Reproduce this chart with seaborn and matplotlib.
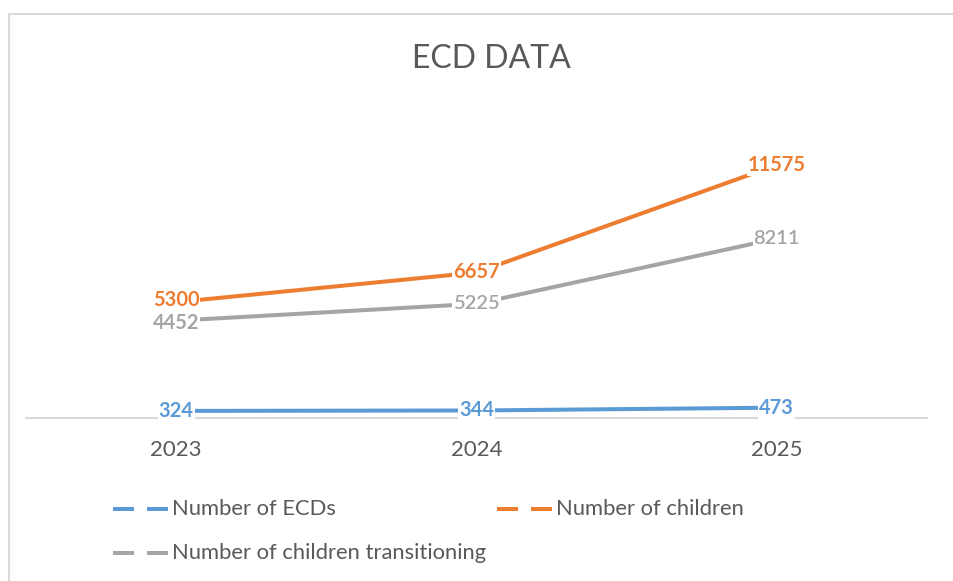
import matplotlib
matplotlib.use("Agg")
import matplotlib.pyplot as plt
from matplotlib.lines import Line2D
from matplotlib.transforms import offset_copy
import seaborn as sns
import pandas as pd

# Chart data
years = ["2023", "2024", "2025"]
ecds = [324, 344, 473]
children = [5300, 6657, 11575]
transitioning = [4452, 5225, 8211]

series_names = ["Number of ECDs", "Number of children", "Number of children transitioning"]
series_values = [ecds, children, transitioning]
colors = ["#5B9BD5", "#ED7D31", "#A5A5A5"]
label_weights = [
    ["bold", "bold", "bold"],
    ["bold", "bold", "bold"],
    ["bold", "semibold", "semibold"],
]

sns.set_theme(style="white")
plt.rcParams["font.family"] = ["Lato", "DejaVu Sans"]

rows = []
for name, vals in zip(series_names, series_values):
    for i, (yr, v) in enumerate(zip(years, vals)):
        rows.append({"pos": i, "year": yr, "series": name, "value": v})
df = pd.DataFrame(rows)

W, H = 954, 581
fig = plt.figure(figsize=(W / 100, H / 100), dpi=100)
fig.patch.set_facecolor("white")

ax = fig.add_axes([26 / W, 163 / H, 901 / W, 306 / H])
sns.lineplot(
    data=df, x="pos", y="value", hue="series", hue_order=series_names,
    palette=colors, linewidth=2.9, legend=False, ax=ax,
    solid_capstyle="butt",
)
ax.set_xlim(-0.5, 2.5)
ax.set_ylim(0, 14000)
ax.set_xticks(range(len(years)))
ax.set_xticklabels(years, fontsize=16, color="#595959")
ax.tick_params(axis="x", length=0, pad=16)
ax.set_yticks([])
ax.set_xlabel("")
ax.set_ylabel("")
for side in ["top", "left", "right"]:
    ax.spines[side].set_visible(False)
ax.spines["bottom"].set_color("#D9D9D9")
ax.spines["bottom"].set_linewidth(1.5)
ax.spines["bottom"].set_zorder(0)

# Value labels centred on the points, on a white background
for s, (vals, color, weights) in enumerate(zip(series_values, colors, label_weights)):
    for i, (v, w) in enumerate(zip(vals, weights)):
        # keep the two close 2023 labels from touching
        dy = 0
        if i == 0 and s == 1:
            dy = 1.5
        elif i == 0 and s == 2:
            dy = -1.5
        tr = offset_copy(ax.transData, fig=fig, x=0, y=dy, units="points")
        ax.text(i, v, f"{v}", ha="center", va="center", fontsize=14.5,
                fontweight=w, color=color, zorder=5, transform=tr,
                bbox=dict(boxstyle="square,pad=0.05", facecolor="white",
                          edgecolor="none"))

# Title
fig.text(491 / W, 1 - 59 / H, "ECD DATA", ha="center", va="center",
         fontsize=23, color="#595959")

# Chart-area border (top and left edges)
fig.add_artist(Line2D([9.5 / W, 9.5 / W], [0, 1 - 13.5 / H],
                      color="#D9D9D9", lw=1.5, transform=fig.transFigure))
fig.add_artist(Line2D([9.5 / W, 1], [1 - 13.5 / H, 1 - 13.5 / H],
                      color="#D9D9D9", lw=1.5, transform=fig.transFigure))

# Legend
legend_items = [
    (series_names[0], colors[0], 113, 509),
    (series_names[1], colors[1], 497, 509),
    (series_names[2], colors[2], 113, 553),
]
for name, color, x0, y0 in legend_items:
    yy = 1 - y0 / H
    for a, b in [(x0, x0 + 21), (x0 + 34, x0 + 55)]:
        fig.add_artist(Line2D([a / W, b / W], [yy, yy], color=color, lw=2.9,
                              solid_capstyle="butt", transform=fig.transFigure))
    fig.text((x0 + 59) / W, yy, name, ha="left", va="center",
             fontsize=15.8, color="#595959")

fig.savefig("out.png", dpi=100, facecolor="white")
